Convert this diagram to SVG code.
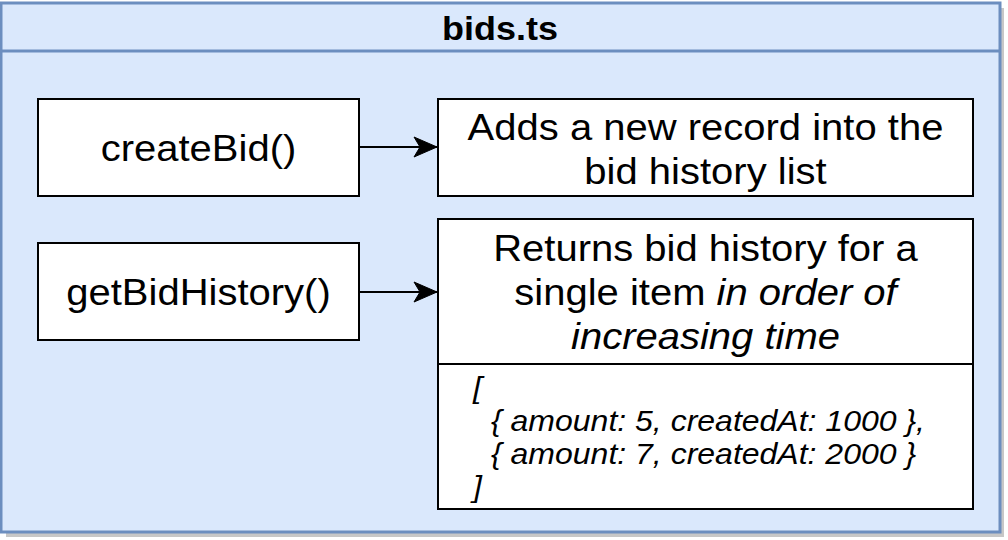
<svg xmlns="http://www.w3.org/2000/svg" width="1008" height="540" viewBox="0 0 1008 540">
  <style>
    .t { font-family: "Liberation Sans", Arial, Helvetica, sans-serif; fill: #000000; }
    .main { font-size: 40px; }
    .title { font-size: 36px; font-weight: bold; }
    .code { font-size: 32px; font-style: italic; }
    .box { fill: #ffffff; stroke: #000000; stroke-width: 2; }
    .edge { fill: none; stroke: #000000; stroke-width: 2; }
  </style>
  <defs>
    <marker id="arrow" markerUnits="userSpaceOnUse" markerWidth="28" markerHeight="24" viewBox="-26 -12 28 24" refX="0" refY="0" orient="auto">
      <path d="M0,0 L-23,-10 L-17,0 L-23,10 Z" fill="#000000" stroke="#000000" stroke-width="1"/>
    </marker>
  </defs>
  <rect width="1008" height="540" fill="#ffffff"/>
  <g id="bids-ts">
    <rect x="6" y="8" width="998" height="529" fill="#000000" opacity="0.22"/>
    <rect x="1" y="3" width="999" height="529" fill="#dae8fc" stroke="#6c8ebf" stroke-width="3"/>
    <line x1="1" y1="51" x2="1000" y2="51" stroke="#6c8ebf" stroke-width="3"/>
    <text class="t title" text-anchor="middle" transform="translate(500,40) scale(1,0.9)">bids.ts</text>
  </g>
  <g id="createBid">
    <rect class="box" x="38" y="99" width="321" height="97"/>
    <text class="t main" text-anchor="middle" transform="translate(198.5,161) scale(1,0.9)">createBid()</text>
  </g>
  <g id="getBidHistory">
    <rect class="box" x="38" y="243" width="321" height="97"/>
    <text class="t main" text-anchor="middle" transform="translate(198.5,305) scale(1,0.9)">getBidHistory()</text>
  </g>
  <g id="createBidDesc">
    <rect class="box" x="438" y="99" width="535" height="97"/>
    <text class="t main" text-anchor="middle" transform="translate(705.5,140) scale(1,0.9)"><tspan x="0" y="0">Adds a new record into the</tspan><tspan x="0" y="48.9">bid history list</tspan></text>
  </g>
  <g id="getBidHistoryDesc">
    <rect class="box" x="438" y="219" width="535" height="290"/>
    <line x1="438" y1="364" x2="973" y2="364" stroke="#000000" stroke-width="2"/>
    <text class="t main" text-anchor="middle" transform="translate(705.5,260.5) scale(1,0.9)"><tspan x="0" y="0">Returns bid history for a</tspan><tspan x="0" y="48.9">single item <tspan font-style="italic">in order of</tspan></tspan><tspan x="0" y="97.8" font-style="italic">increasing time</tspan></text>
    <text class="t code" transform="translate(0,398) scale(1,0.9)"><tspan x="473" y="0">[</tspan><tspan x="491" y="36.67">{ amount: 5, createdAt: 1000 },</tspan><tspan x="491" y="73.33">{ amount: 7, createdAt: 2000 }</tspan><tspan x="473" y="110">]</tspan></text>
  </g>
  <g id="connectors">
    <line class="edge" x1="359" y1="147" x2="437" y2="147" marker-end="url(#arrow)"/>
    <line class="edge" x1="359" y1="292" x2="437" y2="292" marker-end="url(#arrow)"/>
  </g>
</svg>
